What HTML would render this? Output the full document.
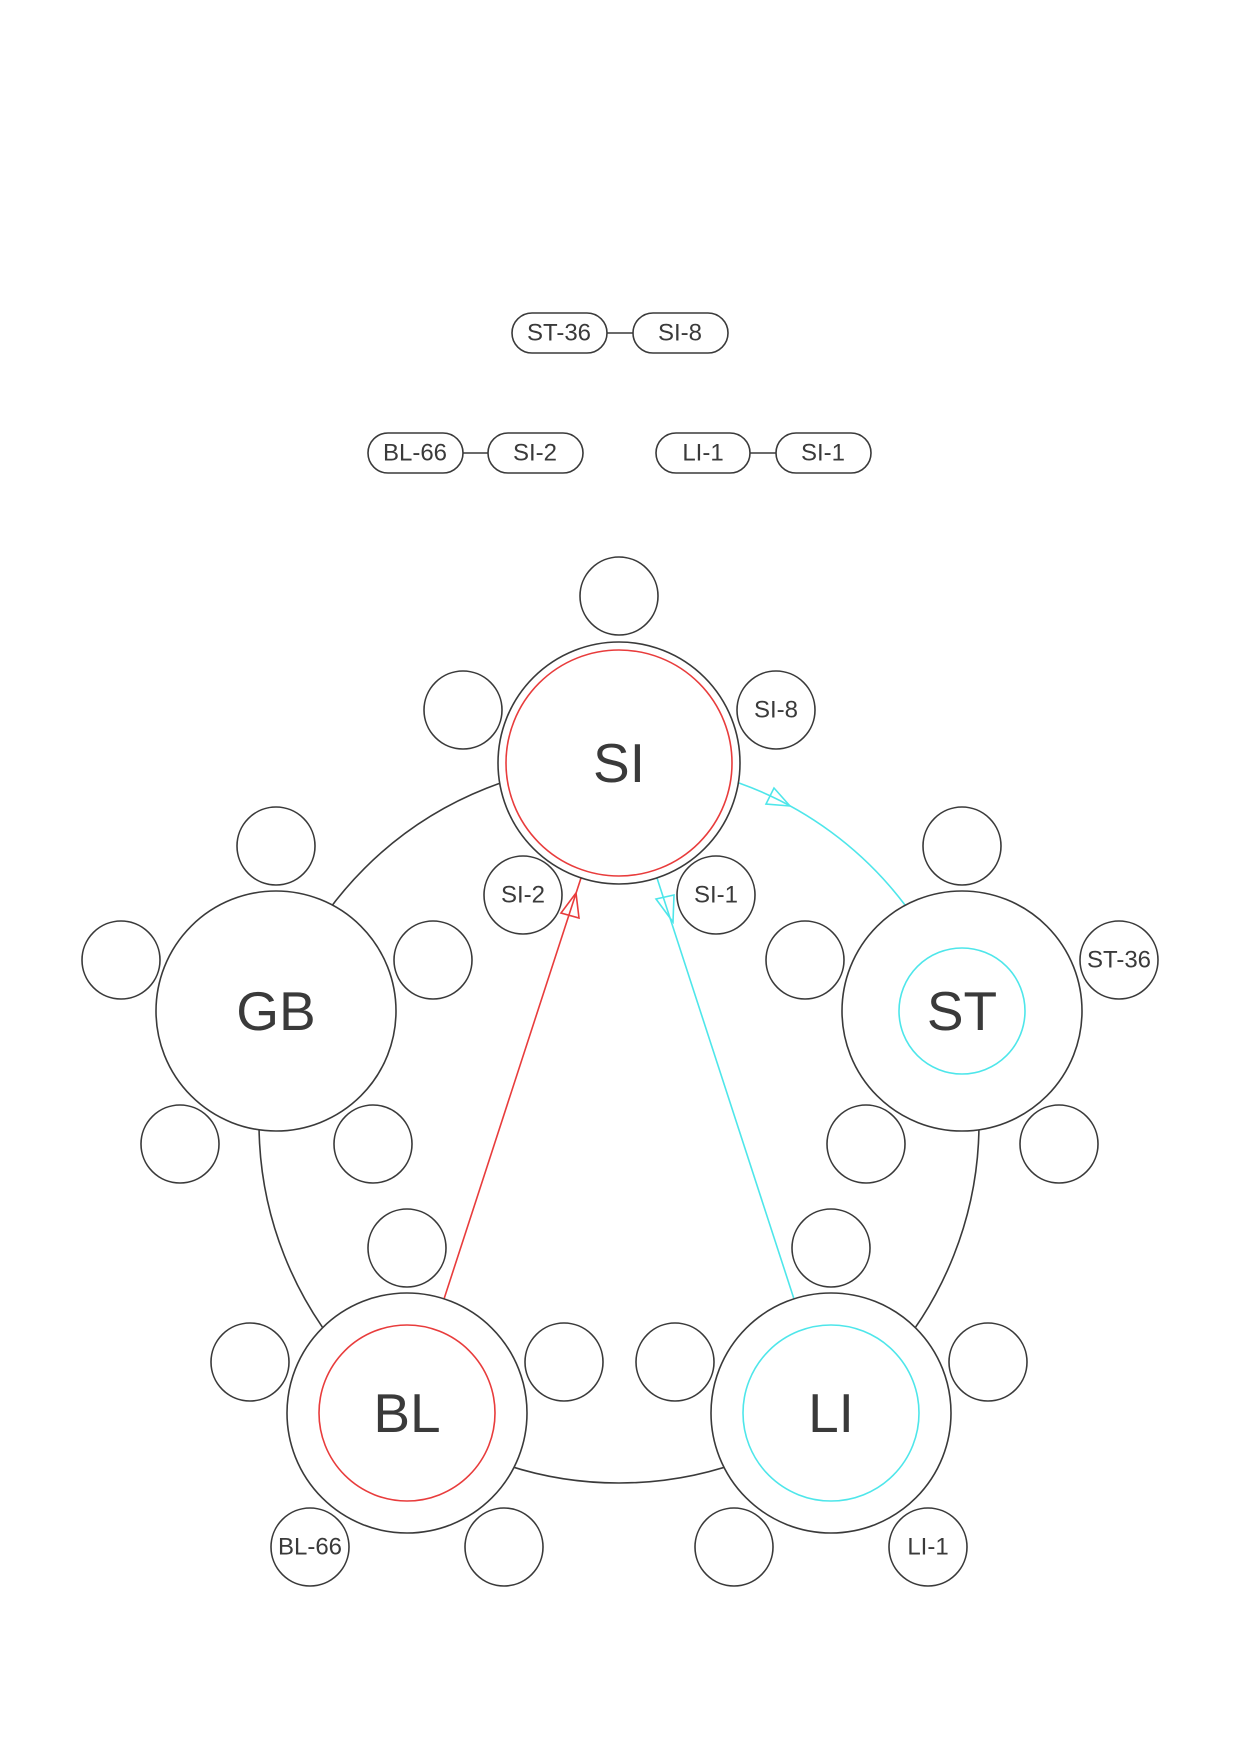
<!DOCTYPE html>
<html><head><meta charset="utf-8"><style>
html,body{margin:0;padding:0;background:#fff;}
svg{display:block;}
text{font-family:"Liberation Sans",sans-serif;fill:#3a3a3a;text-anchor:middle;dominant-baseline:central;}
</style></head><body>
<svg width="1240" height="1754" viewBox="0 0 1240 1754" xmlns="http://www.w3.org/2000/svg">
<g fill="none" stroke="#3a3a3a" stroke-width="1.6">
  <line x1="607" y1="333" x2="633" y2="333"/>
  <rect x="512" y="313" width="95" height="40" rx="20" fill="#fff"/>
  <rect x="633" y="313" width="95" height="40" rx="20" fill="#fff"/>
  <line x1="463" y1="453" x2="488" y2="453"/>
  <rect x="368" y="433" width="95" height="40" rx="20" fill="#fff"/>
  <rect x="488" y="433" width="95" height="40" rx="20" fill="#fff"/>
  <line x1="750" y1="453" x2="776" y2="453"/>
  <rect x="656" y="433" width="94" height="40" rx="20" fill="#fff"/>
  <rect x="776" y="433" width="95" height="40" rx="20" fill="#fff"/>
  <circle cx="619" cy="1123" r="360"/>
</g>
<path d="M739 783 A360 360 0 0 1 905 905" fill="none" stroke="#fff" stroke-width="4"/>
<path d="M739 783 A360 360 0 0 1 905 905" fill="none" stroke="#4ee6ea" stroke-width="1.6"/>
<polygon points="790,806 766,804 774,788" fill="none" stroke="#4ee6ea" stroke-width="1.6"/>
<line x1="444" y1="1299" x2="581" y2="878" stroke="#e83c3c" stroke-width="1.6"/>
<polygon points="576,893 561,913 579,918" fill="none" stroke="#e83c3c" stroke-width="1.6"/>
<line x1="794" y1="1299" x2="657" y2="878" stroke="#4ee6ea" stroke-width="1.6"/>
<polygon points="673,922 656,899 674,895" fill="none" stroke="#4ee6ea" stroke-width="1.6"/>
<g fill="#fff" stroke="#3a3a3a" stroke-width="1.6">
  <circle cx="619" cy="596" r="39"/>
  <circle cx="463" cy="710" r="39"/>
  <circle cx="776" cy="710" r="39"/>
  <circle cx="523" cy="895" r="39"/>
  <circle cx="716" cy="895" r="39"/>
  <circle cx="276" cy="846" r="39"/>
  <circle cx="121" cy="960" r="39"/>
  <circle cx="433" cy="960" r="39"/>
  <circle cx="180" cy="1144" r="39"/>
  <circle cx="373" cy="1144" r="39"/>
  <circle cx="962" cy="846" r="39"/>
  <circle cx="805" cy="960" r="39"/>
  <circle cx="1119" cy="960" r="39"/>
  <circle cx="866" cy="1144" r="39"/>
  <circle cx="1059" cy="1144" r="39"/>
  <circle cx="407" cy="1248" r="39"/>
  <circle cx="250" cy="1362" r="39"/>
  <circle cx="564" cy="1362" r="39"/>
  <circle cx="310" cy="1547" r="39"/>
  <circle cx="504" cy="1547" r="39"/>
  <circle cx="831" cy="1248" r="39"/>
  <circle cx="675" cy="1362" r="39"/>
  <circle cx="988" cy="1362" r="39"/>
  <circle cx="734" cy="1547" r="39"/>
  <circle cx="928" cy="1547" r="39"/>
  <circle cx="619" cy="763" r="121"/>
  <circle cx="276" cy="1011" r="120"/>
  <circle cx="962" cy="1011" r="120"/>
  <circle cx="407" cy="1413" r="120"/>
  <circle cx="831" cy="1413" r="120"/>
</g>
<g fill="none" stroke-width="1.6">
  <circle cx="619" cy="763" r="113" stroke="#e83c3c"/>
  <circle cx="962" cy="1011" r="63" stroke="#4ee6ea"/>
  <circle cx="407" cy="1413" r="88" stroke="#e83c3c"/>
  <circle cx="831" cy="1413" r="88" stroke="#4ee6ea"/>
</g>
<g font-size="55">
  <text x="619" y="763">SI</text>
  <text x="276" y="1011">GB</text>
  <text x="962" y="1011">ST</text>
  <text x="407" y="1413">BL</text>
  <text x="831" y="1413">LI</text>
</g>
<g font-size="24">
  <text x="776" y="710">SI-8</text>
  <text x="523" y="895">SI-2</text>
  <text x="716" y="895">SI-1</text>
  <text x="1119" y="960">ST-36</text>
  <text x="310" y="1547">BL-66</text>
  <text x="928" y="1547">LI-1</text>
  <text x="559" y="333">ST-36</text>
  <text x="680" y="333">SI-8</text>
  <text x="415" y="453">BL-66</text>
  <text x="535" y="453">SI-2</text>
  <text x="703" y="453">LI-1</text>
  <text x="823" y="453">SI-1</text>
</g>
</svg>
</body></html>
